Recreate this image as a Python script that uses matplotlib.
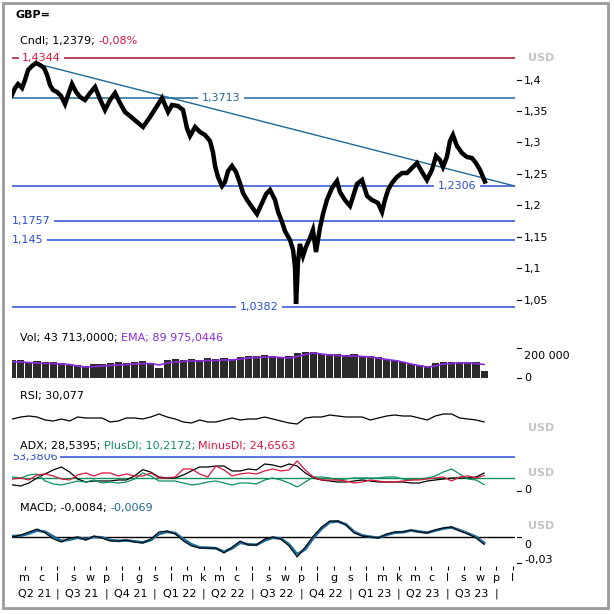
import matplotlib
matplotlib.use("Agg")
import matplotlib.pyplot as plt
import matplotlib.transforms as mtransforms
from matplotlib.patches import Rectangle
import numpy as np

plt.rcParams['font.family'] = 'DejaVu Sans'

W = H = 614
LEFT, RIGHT = 12, 515          # plot area in pixels
XLIM = (-0.79, 30.15)          # months since 1 May 2021

# ---- price (close), x in months since 1 May 2021 ----
price_t = [-0.79, -0.60, -0.42, -0.17, 0.01, 0.20, 0.44, 0.69, 0.93, 1.18,
           1.37, 1.55, 1.73, 1.98, 2.23, 2.47, 2.66, 2.90, 3.15, 3.40,
           3.70, 4.01, 4.32, 4.62, 4.93, 5.24, 5.55, 5.85, 6.16, 6.47,
           6.90, 7.27, 7.70, 8.13, 8.44, 8.81, 9.05, 9.42, 9.73, 9.97,
           10.16, 10.47, 10.77, 11.08, 11.39, 11.57, 11.70, 11.88, 12.13, 12.31,
           12.50, 12.74, 12.99, 13.23, 13.42, 13.67, 13.97, 14.28, 14.59, 14.84,
           15.08, 15.39, 15.58, 15.82, 16.00, 16.31, 16.50, 16.62, 16.68, 16.74,
           16.80, 16.92, 17.11, 17.29, 17.54, 17.72, 17.91, 18.15, 18.34, 18.58,
           18.89, 19.20, 19.38, 19.69, 20.00, 20.12, 20.43, 20.74, 21.05, 21.35,
           21.72, 21.97, 22.15, 22.34, 22.58, 22.89, 23.20, 23.51, 23.81, 24.12,
           24.43, 24.73, 25.04, 25.29, 25.53, 25.72, 25.96, 26.15, 26.33, 26.58,
           26.89, 27.19, 27.50, 27.75, 28.00, 28.30]
price = [1.3755, 1.3867, 1.3930, 1.3867, 1.3994, 1.4153, 1.4217, 1.4264, 1.4233, 1.4185,
         1.4074, 1.3914, 1.3835, 1.3803, 1.3739, 1.3612, 1.3755, 1.3930, 1.3803, 1.3723,
         1.3676, 1.3787, 1.3883, 1.3692, 1.3517, 1.3676, 1.3787, 1.3628, 1.3485, 1.3421,
         1.3326, 1.3246, 1.3405, 1.3580, 1.3708, 1.3485, 1.3596, 1.3580, 1.3517, 1.3230,
         1.3103, 1.3246, 1.3167, 1.3119, 1.3023, 1.2848, 1.2626, 1.2451, 1.2307, 1.2371,
         1.2546, 1.2626, 1.2530, 1.2355, 1.2196, 1.2085, 1.1973, 1.1862, 1.2037, 1.2180,
         1.2244, 1.2085, 1.1894, 1.1735, 1.1591, 1.1448, 1.1289, 1.1003, 1.0430, 1.0732,
         1.1098, 1.1385, 1.1194, 1.1337, 1.1480, 1.1607, 1.1257, 1.1639, 1.1862, 1.2085,
         1.2276, 1.2387, 1.2212, 1.2085, 1.1989, 1.2085, 1.2339, 1.2403, 1.2148, 1.2085,
         1.2037, 1.1894, 1.2085, 1.2244, 1.2355, 1.2451, 1.2514, 1.2514, 1.2594, 1.2673,
         1.2530, 1.2403, 1.2562, 1.2785, 1.2721, 1.2610, 1.2769, 1.3023, 1.3119, 1.2944,
         1.2832, 1.2769, 1.2753, 1.2673, 1.2562, 1.2379]

trend_t = [0.81, 30.15]
trend_v = [1.4249, 1.2306]

levels = [1.4344, 1.3713, 1.2306, 1.1757, 1.145, 1.0382]
level_labels = ["1,4344", "1,3713", "1,2306", "1,1757", "1,145", "1,0382"]
price_ticks = [1.4, 1.35, 1.3, 1.25, 1.2, 1.15, 1.1, 1.05]
price_tick_labels = ["1,4", "1,35", "1,3", "1,25", "1,2", "1,15", "1,1", "1,05"]

# ---- indicators, half-month steps starting mid April 2021 ----
ind_t = np.arange(59) * 0.5 - 0.75
volume = [122, 118, 110, 112, 104, 108, 100, 96, 84, 80,
          92, 95, 98, 104, 102, 108, 112, 100, 70, 118,
          124, 122, 128, 120, 132, 128, 134, 130, 142, 150,
          148, 154, 150, 140, 146, 168, 176, 172, 162, 158,
          160, 152, 158, 150, 148, 138, 126, 122, 104, 92,
          84, 80, 98, 104, 108, 110, 104, 106, 44]           # thousands
vol_ema = [108.7, 106.7, 103.3, 100, 96.7, 96.7, 93.3, 90, 80, 73.3,
           76.7, 80, 83.3, 86.7, 90, 93.3, 96.7, 96.7, 86.7, 100,
           106.7, 110, 113.3, 113.3, 116.7, 116.7, 120, 120, 126.7, 133.3,
           136.7, 140, 140, 136.7, 133.3, 143.3, 156.7, 166.7, 160, 153.3,
           150, 146.7, 146.7, 143.3, 140, 133.3, 123.3, 116.7, 106.7, 93.3,
           83.3, 73.3, 80, 93.3, 96.7, 100, 100, 96.7, 90]
rsi = [39, 45, 48, 45, 36, 33, 39, 33, 45, 42,
       42, 42, 30, 33, 42, 42, 39, 45, 54, 45,
       39, 30, 27, 36, 30, 30, 36, 42, 36, 39,
       39, 45, 39, 33, 27, 24, 42, 45, 45, 51,
       48, 45, 45, 45, 36, 42, 48, 51, 48, 48,
       42, 36, 48, 54, 54, 42, 39, 36, 30.1]
adx = [9.6, 8.0, 12.7, 20.7, 27.1, 33.5, 38.2, 30.3, 19.1, 14.3,
       15.9, 15.9, 15.9, 17.5, 17.5, 24.0, 34.0, 30.0, 22.3, 20.7,
       20.7, 25.5, 31.9, 38.2, 38.2, 39.8, 39.8, 31.9, 31.9, 35.0,
       33.5, 43.0, 41.4, 38.2, 43.0, 39.8, 28.7, 20.7, 17.5, 15.9,
       14.3, 14.3, 15.9, 17.5, 15.9, 14.3, 14.3, 14.3, 14.3, 12.7,
       12.7, 15.9, 17.5, 19.1, 20.7, 20.7, 20.7, 22.3, 28.5]
plus_di = [22.3, 20.7, 25.5, 27.1, 15.9, 11.2, 9.6, 12.7, 15.9, 14.3,
           17.5, 12.7, 14.3, 12.7, 14.3, 19.1, 28.7, 23.9, 15.9, 15.9,
           15.9, 12.7, 9.6, 11.2, 14.3, 15.9, 12.7, 9.6, 12.7, 12.7,
           11.2, 17.5, 20.7, 17.5, 12.7, 6.4, 14.3, 22.3, 22.3, 20.7,
           17.5, 19.1, 20.7, 20.7, 20.7, 20.7, 22.3, 22.3, 19.1, 17.5,
           19.1, 20.7, 23.9, 30.3, 35.0, 27.1, 19.1, 17.5, 10.2]
minus_di = [19.1, 20.7, 17.5, 25.5, 27.1, 23.9, 19.1, 17.5, 25.5, 28.7,
            23.9, 28.7, 28.7, 23.9, 27.1, 23.9, 23.9, 28.7, 20.7, 20.7,
            22.3, 35.0, 35.0, 27.1, 22.3, 39.8, 33.5, 23.9, 27.1, 28.7,
            27.1, 31.9, 35.0, 31.9, 33.5, 47.8, 33.5, 22.3, 17.5, 17.5,
            17.5, 15.9, 12.7, 14.3, 17.5, 15.9, 14.3, 14.3, 15.9, 17.5,
            17.5, 19.1, 20.7, 22.3, 15.9, 22.3, 23.9, 20.7, 24.7]
adx_max = 53.3806
adx_level = 20
macd = [0.0, 0.0023, 0.0058, 0.0092, 0.0046, -0.0023, -0.0058, -0.0012, 0.0, -0.0035,
        0.0012, -0.0012, -0.0046, -0.0046, -0.0035, -0.0058, -0.0069, -0.0023, 0.0058, 0.0069,
        0.0035, -0.0046, -0.0104, -0.0127, -0.0127, -0.0127, -0.0184, -0.0115, -0.0046, -0.0092,
        -0.0092, -0.0023, 0.0, -0.0023, -0.0104, -0.0230, -0.0115, 0.0012, 0.0115, 0.0184,
        0.0184, 0.0138, 0.0046, 0.0012, 0.0, -0.0012, 0.0035, 0.0058, 0.0058, 0.0081,
        0.0058, 0.0046, 0.0081, 0.0104, 0.0115, 0.0069, 0.0035, -0.0012, -0.0084]
macd_signal = [0.0010, 0.0015, 0.0040, 0.0075, 0.0060, 0.0005, -0.0045, -0.0030, -0.0008, -0.0025,
               0.0, -0.0005, -0.0035, -0.0045, -0.0040, -0.0050, -0.0062, -0.0035, 0.0035, 0.0060,
               0.0045, -0.0025, -0.0085, -0.0120, -0.0125, -0.0130, -0.0170, -0.0130, -0.0065, -0.0085,
               -0.0090, -0.0040, -0.0008, -0.0018, -0.0085, -0.0200, -0.0140, -0.0010, 0.0095, 0.0170,
               0.0180, 0.0145, 0.0060, 0.0018, 0.0002, -0.0008, 0.0025, 0.0050, 0.0056, 0.0075,
               0.0062, 0.0050, 0.0075, 0.0098, 0.0110, 0.0078, 0.0042, 0.0002, -0.0069]

month_labels = ["m", "c", "l", "s", "w", "p", "l", "g", "s", "l", "m", "k",
                "m", "c", "l", "s", "w", "p", "l", "g", "s", "l", "m", "k",
                "m", "c", "l", "s", "w", "p", "l"]
quarter_labels = ["Q2 21", "Q3 21", "Q4 21", "Q1 22", "Q2 22",
                  "Q3 22", "Q4 22", "Q1 23", "Q2 23", "Q3 23"]

RED = '#e0153c'
BLUE = '#2a4fd2'
TEAL = '#1d6a96'
GREEN = '#0c9060'
PURPLE = '#8b2be0'
GREY = '#c4c4c4'
FS = 8

fig = plt.figure(figsize=(W / 100, H / 100), dpi=100)


def fx(px):
    return px / W


def fy(py):
    return 1 - py / H


def rx(px):
    return (px - LEFT) / (RIGHT - LEFT)


def panel(top, bottom, ylim):
    ax = fig.add_axes([fx(LEFT), fy(bottom), (RIGHT - LEFT) / W, (bottom - top) / H])
    ax.set_xlim(XLIM)
    ax.set_ylim(ylim)
    ax.axis('off')
    return ax


def right_label(ax, val, text, dy=0, tick=True, **kw):
    tr = ax.get_yaxis_transform()
    if tick:
        ax.plot([rx(517), rx(521)], [val, val], color='black', lw=0.8,
                transform=tr, clip_on=False)
    t2 = mtransforms.offset_copy(tr, fig=fig, x=0, y=-dy, units='dots')
    ax.text(rx(524), val, text, transform=t2, va='center', ha='left',
            fontsize=FS, clip_on=False, **kw)


def usd(ax, val):
    ax.text(rx(528), val, "USD", transform=ax.get_yaxis_transform(), va='center',
            ha='left', fontsize=FS, color=GREY, fontweight='bold', clip_on=False)


renderer = fig.canvas.get_renderer()


def chain(x_px, y_px, parts):
    x = x_px
    for s, c in parts:
        t = fig.text(fx(x), fy(y_px), s, color=c, va='center', ha='left', fontsize=FS)
        x += t.get_window_extent(renderer=renderer).width


# ---- title & border ----
fig.text(fx(16), fy(15), "GBP=", fontsize=FS, fontweight='bold', va='center')
fig.patches.append(Rectangle((fx(3), fy(608)), fx(605), 605 / H, transform=fig.transFigure,
                             fill=False, edgecolor='#9a9a9a', lw=2))

# ---- price panel ----
ax_p = panel(30, 315, (1.02549, 1.47895))
chain(20, 41, [("Cndl; 1,2379; ", 'black'), ("-0,08%", RED)])
line_cols = ['#a0142c', TEAL, BLUE, BLUE, BLUE, BLUE]
text_cols = [RED, TEAL, BLUE, BLUE, BLUE, BLUE]
lab_pos = [(22, 'left'), (221, 'center'), (457, 'center'), (12, 'left'), (12, 'left'), (259, 'center')]
ytr = ax_p.get_yaxis_transform()
for lv, lab, lc, tc, (px, ha) in zip(levels, level_labels, line_cols, text_cols, lab_pos):
    ax_p.axhline(lv, color=lc, lw=1.1, zorder=2)
    ax_p.text(rx(px), lv, lab, transform=ytr, color=tc, fontsize=FS, ha=ha, va='center',
              zorder=3, bbox=dict(facecolor='white', edgecolor='none', pad=2.5))
ax_p.plot(trend_t, trend_v, color=TEAL, lw=1.0, zorder=4)
ax_p.plot(price_t, price, color='black', lw=3.2, zorder=5, solid_joinstyle='miter')
for v, lab in zip(price_ticks, price_tick_labels):
    right_label(ax_p, v, lab, dy=1)
usd(ax_p, 1.4344)

# ---- volume panel ----
ax_v = panel(345, 380, (-13.3, 220))
chain(20, 338, [("Vol; 43 713,0000; ", 'black'), ("EMA; 89 975,0446", PURPLE)])
ax_v.bar(ind_t, volume, width=0.44, color='#2b2b2b', linewidth=0)
ax_v.plot(ind_t, vol_ema, color=PURPLE, lw=1.2)
right_label(ax_v, 200, "200 000", dy=8)
right_label(ax_v, 0, "0")

# ---- RSI panel ----
ax_r = panel(400, 435, (-9, 96))
chain(20, 396, [("RSI; 30,077", 'black')])
ax_r.plot(ind_t, rsi, color='black', lw=0.9)
usd(ax_r, 12)

# ---- ADX panel ----
ax_a = panel(454, 495, (-6.4, 58.9))
chain(20, 446, [("ADX; 28,5395; ", 'black'), ("PlusDI; 10,2172; ", GREEN),
                ("MinusDI; 24,6563", RED)])
ax_a.axhline(adx_max, color=BLUE, lw=1.1, zorder=2)
ax_a.text(rx(12), adx_max, "53,3806", transform=ax_a.get_yaxis_transform(), color=BLUE,
          fontsize=FS, ha='left', va='center', zorder=3, clip_on=True,
          bbox=dict(facecolor='white', edgecolor='none', pad=1.5))
ax_a.axhline(adx_level, color=GREEN, lw=1.0, zorder=2)
ax_a.plot(ind_t, adx, color='black', lw=0.9, zorder=3)
ax_a.plot(ind_t, plus_di, color=GREEN, lw=0.9, zorder=3)
ax_a.plot(ind_t, minus_di, color=RED, lw=0.9, zorder=4)
usd(ax_a, 29)
right_label(ax_a, 0, "0", dy=-1)

# ---- MACD panel ----
ax_m = panel(512, 568, (-0.03565, 0.02875))
chain(20, 508, [("MACD; -0,0084; ", 'black'), ("-0,0069", TEAL)])
ax_m.axhline(0, color='black', lw=1.0, zorder=2)
ax_m.plot(ind_t, macd_signal, color=TEAL, lw=2.0, zorder=3)
ax_m.plot(ind_t, macd, color='black', lw=0.8, zorder=4)
usd(ax_m, 0.0127)
right_label(ax_m, 0, "0", dy=8)
right_label(ax_m, -0.03, "-0,03", dy=-3)

# ---- time axis ----
ax_x = panel(562, 605, (605, 562))
months = np.arange(len(month_labels))
ax_x.vlines(months, 566, 570, color='black', lw=0.8)
for m, lab in zip(months, month_labels):
    ax_x.text(m, 578, lab, ha='center', va='center', fontsize=FS)
q_centers = [(XLIM[0] + 2) / 2] + [3.5 + 3 * j for j in range(len(quarter_labels) - 1)]
for c, lab in zip(q_centers, quarter_labels):
    ax_x.text(c, 594, lab, ha='center', va='center', fontsize=FS)
for j in range(len(quarter_labels)):
    ax_x.text(2 + 3 * j, 594, "|", ha='center', va='center', fontsize=FS)

fig.savefig("out.png", dpi=100)
